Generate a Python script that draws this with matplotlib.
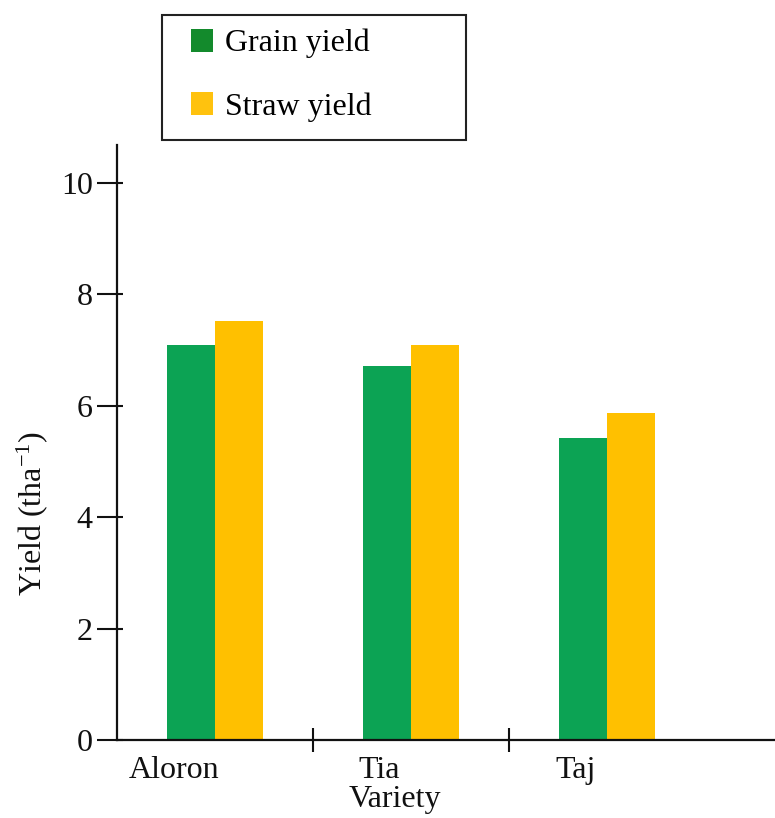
import matplotlib
matplotlib.use("Agg")
import matplotlib.pyplot as plt
from matplotlib.patches import Patch, Rectangle
import numpy as np

varieties = ["Aloron", "Tia", "Taj"]
grain_yield = [7.09, 6.72, 5.43]
straw_yield = [7.52, 7.10, 5.87]
yticks = [0, 2, 4, 6, 8, 10]
series_names = ["Grain yield", "Straw yield"]

plt.rcParams['font.family'] = ['Liberation Serif', 'DejaVu Serif']
plt.rcParams['mathtext.fontset'] = 'custom'
plt.rcParams['mathtext.rm'] = 'Liberation Serif'
plt.rcParams['mathtext.it'] = 'Liberation Serif:italic'

W, H = 775, 818
fig = plt.figure(figsize=(W / 100, H / 100), dpi=100)
ax = fig.add_axes([117 / W, (H - 740) / H, (W - 117) / W, (740 - 145) / H])

green = "#0ca354"
yellow = "#ffc000"
x = np.arange(len(varieties))
w = 0.243
ax.bar(x - w / 2, grain_yield, w, color=green, edgecolor='none')
ax.bar(x + w / 2, straw_yield, w, color=yellow, edgecolor='none')

ax.set_xlim(-0.5, 2.857)
ax.set_ylim(0, (740 - 145) / 55.7)

for s in ['top', 'right']:
    ax.spines[s].set_visible(False)
for s in ['left', 'bottom']:
    ax.spines[s].set_linewidth(1.6)
    ax.spines[s].set_color('#111111')

ax.set_yticks(yticks)
ax.set_yticklabels([str(v) for v in yticks], fontsize=23)
ax.tick_params(axis='y', which='major', direction='out', length=14.5, width=1.5, pad=3, colors='#111111')
ax.yaxis.remove_overlapping_locs = False
ax.set_yticks(yticks, minor=True)
ax.tick_params(axis='y', which='minor', direction='in', length=4.5, width=1.5, colors='#111111')

ax.set_xticks([])
ax.set_xticks([0.5, 1.5], minor=True)
ax.tick_params(axis='x', which='minor', direction='inout', length=17, width=1.5, colors='#111111')

offsets = [-0.21, -0.16, -0.16]
for xi, name, off in zip(x, varieties, offsets):
    ax.text(xi + off, -0.55, name, ha='center', va='center', fontsize=23, color='#111111')

fig.text(395 / W, 1 - 800 / H, "Variety", ha='center', va='center', fontsize=23, color='#111111')
fig.text(32 / W, 1 - 514 / H, "Yield (tha$^{-1}$)", ha='center', va='center', rotation=90,
         fontsize=23, color='#111111')

# legend frame
fig.patches.append(Rectangle((162 / W, 1 - 140 / H), (466 - 162) / W, (140 - 15) / H,
                             transform=fig.transFigure, fill=False, edgecolor='#222222', linewidth=1.5))
handles = [Patch(facecolor="#138a2c", edgecolor='none'), Patch(facecolor="#ffc20e", edgecolor='none')]
fig.legend(handles, series_names, loc='upper left', bbox_to_anchor=(191 / W, 1 - 29 / H),
           frameon=False, fontsize=23, handlelength=0.7, handleheight=0.7, handletextpad=0.35,
           labelspacing=1.05, borderpad=0, borderaxespad=0)

fig.savefig("out.png", dpi=100)
